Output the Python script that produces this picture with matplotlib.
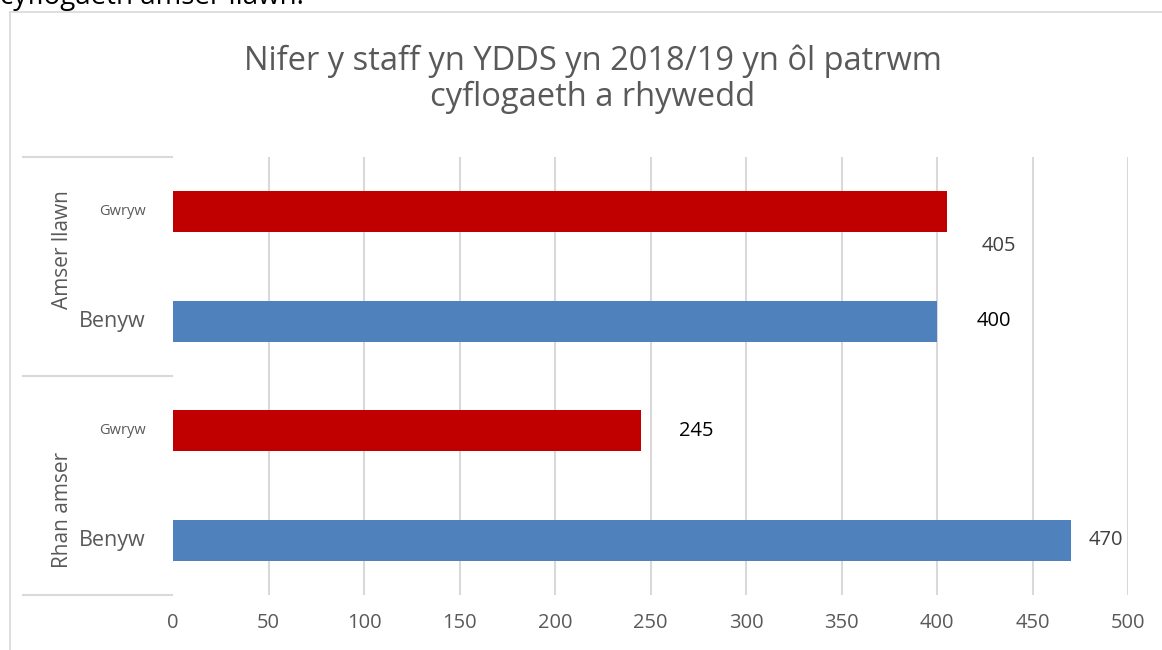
import matplotlib.pyplot as plt
from matplotlib.lines import Line2D

plt.rcParams['font.family'] = ['Open Sans', 'DejaVu Sans']

# data
groups = ['Amser llawn', 'Rhan amser']
genders = ['Gwryw', 'Benyw', 'Gwryw', 'Benyw']
values = [405, 400, 245, 470]
colors = ['#c00000', '#4f81bd', '#c00000', '#4f81bd']
xticks = [0, 50, 100, 150, 200, 250, 300, 350, 400, 450, 500]

W, H = 1162, 650
fig = plt.figure(figsize=(W / 100, H / 100), dpi=100)

def fx(px):
    return px / W

def fy(py):
    return 1 - py / H

ax = fig.add_axes([fx(173), fy(595), fx(1128) - fx(173), fy(157) - fy(595)])

ypos = list(range(len(values)))
ax.barh(ypos, values, height=0.37, color=colors, zorder=3)
ax.set_ylim(len(values) - 0.5, -0.5)
ax.set_xlim(0, 500)
ax.set_xticks(xticks)
ax.set_xticklabels([str(t) for t in xticks], fontsize=14.5, color='#595959')
ax.tick_params(axis='x', length=0, pad=13)
ax.set_yticks([])
ax.grid(axis='x', color='#d9d9d9', linewidth=1.5, zorder=0)
ax.get_xgridlines()[0].set_visible(False)
for s in ax.spines.values():
    s.set_visible(False)

# data labels (offsets in points)
label_off = [(38, -25), (41, 0), (40, 0), (25, 0)]
label_col = ['#404040', 'black', 'black', '#404040']
for i, v in enumerate(values):
    ax.annotate(str(v), (v, i), xytext=label_off[i], textcoords='offset points',
                ha='center', va='center', fontsize=14.5, color=label_col[i])

# category labels
inner_size = [10.5, 15.5, 10.5, 15.5]
inner_x = [123, 112, 123, 112]
for i, g in enumerate(genders):
    yp = ax.transData.transform((0, i))[1]
    fig.text(fx(inner_x[i]), yp / fig.dpi / fig.get_figheight(), g,
             ha='center', va='center', fontsize=inner_size[i], color='#595959')

fig.text(fx(63), fy(250), groups[0], rotation=90, ha='center', va='center',
         fontsize=15, color='#595959')
fig.text(fx(63), fy(510), groups[1], rotation=90, ha='center', va='center',
         fontsize=15, color='#595959')

for py in [157, 376, 595]:
    fig.add_artist(Line2D([fx(23), fx(172)], [fy(py), fy(py)], color='#d9d9d9', lw=1.5))

# chart border
fig.add_artist(Line2D([fx(10), fx(1162)], [fy(12), fy(12)], color='#d9d9d9', lw=1.2))
fig.add_artist(Line2D([fx(10), fx(10)], [fy(12), fy(650)], color='#d9d9d9', lw=1.2))

# title
fig.text(fx(593), fy(79), 'Nifer y staff yn YDDS yn 2018/19 yn ôl patrwm\ncyflogaeth a rhywedd',
         ha='center', va='center', fontsize=23.5, color='#595959', linespacing=1.1)

# text above chart (cut off at the top, as in the reference)
fig.text(fx(0), fy(4), 'cyflogaeth amser llawn.', ha='left', va='baseline',
         fontsize=20, color='black')

fig.savefig('out.png', dpi=100)
